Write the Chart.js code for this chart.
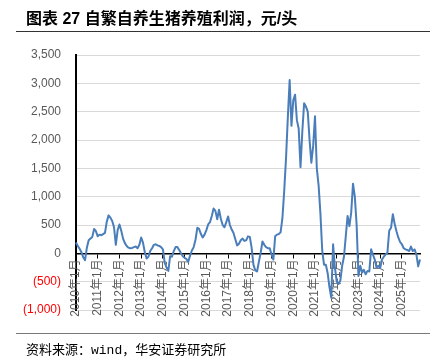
<!DOCTYPE html>
<html>
<head>
<meta charset="utf-8">
<script src="https://cdn.jsdelivr.net/npm/chart.js@4"></script>
<style>
  body { margin: 0; background: #fff; }
  #wrap { position: relative; width: 437px; height: 364px; overflow: hidden; }
  #myChart { position: absolute; left: 0; top: 0; }
  .title { position: absolute; left: 26px; top: 5px; font: bold 16px "Liberation Sans", "Noto Sans CJK SC", sans-serif; color: #000; white-space: nowrap; }
  .rule { position: absolute; left: 16px; width: 414px; height: 0; }
  .source { position: absolute; left: 26px; top: 339px; font: 13px "Noto Sans CJK SC", sans-serif; color: #000; white-space: nowrap; }
  .source .en { font-family: "Liberation Mono", monospace; }
</style>
</head>
<body>
<div id="wrap">
  <canvas id="myChart" width="437" height="364"></canvas>
  <div class="title">图表 27 自繁自养生猪养殖利润，元/头</div>
  <div class="rule" style="top:31px;border-top:1.3px solid #333"></div>
  <div class="rule" style="top:333px;border-top:1px solid #777"></div>
  <div class="source">资料来源：<span class="en">wind</span>，华安证券研究所</div>
</div>
<script>
// anos do eixo x (um rótulo por mês, de 2010年1月 até 2025年11月)
const startYear = 2010
const monthCount = 191

// lucro por cabeça, valores mensais
const profit = [
  190, 130, 80, 20, -70, -120, 100, 230, 260, 290, 430, 390,        // 2010
  300, 330, 320, 340, 360, 560, 670, 630, 570, 460, 150, 410,       // 2011
  510, 400, 260, 180, 130, 100, 90, 95, 110, 120, 90, 150,          // 2012
  280, 190, 20, -90, -60, 40, 90, 150, 160, 140, 130, 110,          // 2013
  70, -170, -250, -310, -50, -60, 40, 110, 110, 60, 0, -50,         // 2014
  -80, -100, -150, -40, 50, 110, 240, 450, 430, 340, 280, 330,      // 2015
  410, 510, 550, 660, 790, 750, 600, 770, 610, 500, 460, 550,       // 2016
  650, 500, 420, 360, 250, 140, 170, 230, 260, 220, 230, 300,       // 2017
  290, 100, -200, -300, -320, -150, 10, 210, 150, 110, 90, 90,      // 2018
  -20, -110, 300, 330, 340, 370, 620, 1100, 1680, 2400, 3060, 2250, // 2019
  2700, 2800, 2350, 2200, 1520, 2150, 2650, 2590, 2500, 2000, 1600, 1900, // 2020
  2420, 1500, 1200, 700, 50, -200, -200, -350, -600, -780, 160, -250,     // 2021
  -500, -540, -480, -220, -60, 300, 660, 480, 720, 1230, 1000, 500,       // 2022
  -400, -220, -340, -290, -370, -310, -320, 70, -20, -110, -250, -220,    // 2023
  -260, -110, -60, -20, 10, 400, 450, 690, 520, 390, 280, 200,            // 2024
  160, 90, 70, 60, 40, 120, 40, 70, -20, -230, -110                       // 2025
]

const yTicks = [-1000, -500, 0, 500, 1000, 1500, 2000, 2500, 3000, 3500]

const labels = []
for (let i = 0; i < monthCount; i++) {
  const y = startYear + Math.floor(i / 12)
  labels.push(y + '年' + (i % 12 + 1) + '月')
}

const fontFamily = '"Liberation Sans", "Noto Sans CJK SC", sans-serif'

const ctx = document.getElementById('myChart').getContext('2d')

new Chart(ctx, {
  type: 'line',
  data: {
    labels: labels,
    datasets: [
      {
        label: '自繁自养生猪养殖利润',
        data: profit,
        borderColor: '#4a7ebb',
        borderWidth: 2,
        pointRadius: 0,
        tension: 0,
        borderJoinStyle: 'round'
      }
    ]
  },
  options: {
    responsive: false,
    animation: false,
    layout: { padding: { left: 0, right: 17, top: 55, bottom: 54 } },
    plugins: { legend: { display: false }, tooltip: { enabled: false } },
    scales: {
      y: {
        min: yTicks[0],
        max: yTicks[yTicks.length - 1],
        afterBuildTicks: s => { s.ticks = yTicks.map(v => ({ value: v })) },
        afterFit: s => { s.width = 76 },
        border: { color: '#000', width: 2 },
        grid: {
          drawTicks: false,
          color: c => (c.tick && c.tick.value === 0 ? 'rgba(0,0,0,0)' : '#d9d9d9')
        },
        ticks: {
          padding: 15,
          font: { family: fontFamily, size: 12 },
          color: c => (c.tick.value < 0 ? '#ff0000' : '#595959'),
          callback: v => (v < 0 ? '(' + Math.abs(v).toLocaleString('en-US') + ')' : v.toLocaleString('en-US'))
        }
      },
      x: {
        position: { y: 0 },
        border: { color: '#000', width: 1.5 },
        grid: {
          drawOnChartArea: false,
          drawTicks: true,
          tickLength: 4,
          color: c => (c.index % 12 === 0 ? '#000' : 'rgba(0,0,0,0)')
        },
        ticks: {
          autoSkip: false,
          minRotation: 90,
          maxRotation: 90,
          padding: 2,
          font: { family: fontFamily, size: 12 },
          color: '#595959',
          callback: (v, i) => (i % 12 === 0 ? labels[i] : '')
        }
      }
    }
  }
})
</script>
</body>
</html>
